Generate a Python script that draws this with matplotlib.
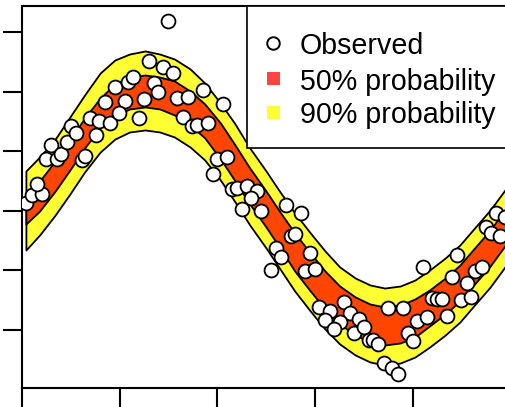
import matplotlib
matplotlib.use("Agg")
import matplotlib.pyplot as plt
from matplotlib.patches import Rectangle
from matplotlib.lines import Line2D
import matplotlib.transforms as mtransforms

# ---- data ----
band_x = [4, 18, 34, 49, 64, 80, 95, 110, 126, 141, 156, 172, 187, 203, 218, 233, 249,
          264, 279, 295, 310, 325, 341, 356, 371, 387, 402, 417, 433, 448, 463, 479, 494, 510]
upper90 = [13.34, 14.51, 16.02, 17.87, 19.71, 21.56, 22.65, 23.15, 23.41, 23.15, 22.73, 21.90,
           20.72, 19.04, 17.28, 15.27, 13.42, 11.58, 9.82, 8.14, 6.63, 5.29, 4.36, 3.78, 3.52,
           3.69, 4.19, 5.03, 6.04, 7.13, 8.56, 10.07, 11.74, 13.42]
upper50 = [10.91, 12.50, 14.18, 15.94, 17.78, 19.46, 20.64, 21.22, 21.39, 21.22, 20.89, 20.05,
           18.96, 17.37, 15.52, 13.59, 11.74, 9.90, 8.14, 6.46, 4.95, 3.69, 2.77, 2.18, 1.93,
           2.10, 2.60, 3.36, 4.36, 5.45, 6.88, 8.39, 10.07, 11.74]
lower50 = [8.89, 9.98, 11.66, 13.42, 15.27, 16.95, 17.95, 18.54, 18.71, 18.54, 18.04, 17.20,
           16.11, 14.35, 12.50, 10.57, 8.72, 6.88, 4.95, 3.27, 1.76, 0.50, -0.42, -1.01, -1.26,
           -1.09, -0.59, 0.34, 1.34, 2.43, 3.86, 5.37, 7.05, 8.72]
lower90 = [6.71, 7.97, 9.65, 11.41, 13.25, 14.93, 16.02, 16.61, 16.78, 16.61, 16.19, 15.35,
           14.26, 12.58, 10.74, 8.81, 6.96, 5.12, 3.27, 1.59, 0.08, -1.17, -2.10, -2.68, -2.94,
           -2.77, -2.27, -1.43, -0.42, 0.67, 2.10, 3.61, 5.29, 6.96]

obs_x = [4.1, 9.9, 20.2, 15.0, 24.6, 35.5, 29.4, 39.6, 61.1, 64.4, 45.7, 49.8, 55.2, 75.7, 69.6,
         79.1, 90.0, 84.9, 105.4, 99.5, 95.1, 108.7, 113.9, 120.0, 124.8, 130.2, 135.0, 139.4,
         144.5, 154.8, 149.4, 158.9, 170.1, 184.9, 205.3, 165.0, 173.6, 179.3, 190.6, 199.2,
         209.7, 195.1, 215.3, 219.6, 229.9, 240.1, 234.3, 225.4, 244.8, 269.6, 285.1, 274.7,
         279.8, 259.8, 265.0, 294.6, 254.7, 290.0, 299.7, 304.3, 315.1, 329.4, 335.2, 310.0,
         325.0, 319.2, 339.6, 344.4, 349.9, 354.5, 359.6, 364.5, 370.0, 378.5, 384.9, 374.7,
         389.5, 394.9, 399.8, 403.8, 409.9, 414.6, 419.9, 424.5, 429.4, 434.5, 439.6, 444.7,
         449.1, 454.9, 459.6, 463.9, 470.3, 474.7, 479.5, 484.9, 489.0, 494.1]
obs_y = [10.65, 11.33, 11.38, 12.25, 14.32, 14.32, 15.52, 14.76, 14.26, 14.60, 15.80, 17.11,
         16.55, 16.36, 17.76, 17.53, 17.37, 19.15, 19.25, 18.23, 20.39, 20.80, 21.22, 17.76,
         19.35, 22.57, 20.72, 19.99, 22.06, 21.53, 25.92, 19.44, 19.52, 20.13, 18.92, 17.91,
         17.11, 17.16, 17.37, 14.32, 14.51, 13.09, 11.87, 11.91, 12.08, 11.66, 11.05, 10.13,
         10.02, 10.49, 9.84, 7.89, 8.05, 6.85, 6.12, 6.43, 5.03, 4.95, 5.09, 1.93, 1.59, 2.37,
         1.45, 0.84, 0.70, 0.06, -0.25, 0.92, 0.25, -0.88, -0.80, -1.17, -2.74, -3.19, -3.67,
         1.82, 1.82, -0.23, -0.92, 0.76, 5.26, 1.13, 2.68, 2.56, 2.60, 1.15, 4.42, 6.32, 2.49,
         3.94, 2.77, 4.92, 5.31, 8.62, 8.11, 9.84, 7.89, 9.50]

x_ticks = [0, 100, 200, 300, 400, 500]
y_ticks = [0, 5, 10, 15, 20, 25]
legend_labels = ["Observed", "50% probability", "90% probability"]

RED = "#FF4500"
YELLOW = "#FFFF33"
LEG_RED = "#FF4444"

W, H = 506, 407
fig = plt.figure(figsize=(W / 100, H / 100), dpi=100)
ax = fig.add_axes([22 / W, (H - 388) / H, 490 / W, 382 / H])

ax.fill_between(band_x, lower90, upper90, facecolor=YELLOW, edgecolor="black",
                linewidth=1.3, zorder=1)
ax.fill_between(band_x, lower50, upper50, facecolor=RED, edgecolor="black",
                linewidth=1.3, zorder=2)
ax.scatter(obs_x, obs_y, s=100, facecolor="white", edgecolor="black", linewidth=1.3, zorder=3)

ax.set_xlim(0, 501.3)
ax.set_ylim(-4.866, 27.18)
ax.set_xticks(x_ticks)
ax.set_yticks(y_ticks)
ax.tick_params(direction="out", length=14, width=1.5, labelleft=False, labelbottom=False)
for side in ["left", "bottom", "top", "right"]:
    ax.spines[side].set_linewidth(1.5)

# legend (pixel coordinates measured from the top-left of the image)
px = mtransforms.Affine2D().scale(1 / W, -1 / H).translate(0, 1) + fig.transFigure
box = Rectangle((246.7, 6), 300, 141.7, transform=px, facecolor="white",
                edgecolor="black", linewidth=1.2, zorder=10)
fig.add_artist(box)
fig.add_artist(Line2D([273.3], [43.3], transform=px, marker="o", markersize=9,
                      markerfacecolor="none", markeredgecolor="black", markeredgewidth=1.4,
                      zorder=11))
fig.add_artist(Rectangle((266.7, 71.7), 13.3, 13.3, transform=px, facecolor=LEG_RED,
                         edgecolor="none", zorder=11))
fig.add_artist(Rectangle((266.7, 106), 13.3, 13.3, transform=px, facecolor=YELLOW,
                         edgecolor="none", zorder=11))
for lab, yb in zip(legend_labels, [53.5, 89.5, 123.5]):
    fig.text(300 / W, 1 - yb / H, lab, fontsize=20.6, family="Liberation Sans",
             ha="left", va="baseline", zorder=12)

fig.savefig("out.png", dpi=100)
